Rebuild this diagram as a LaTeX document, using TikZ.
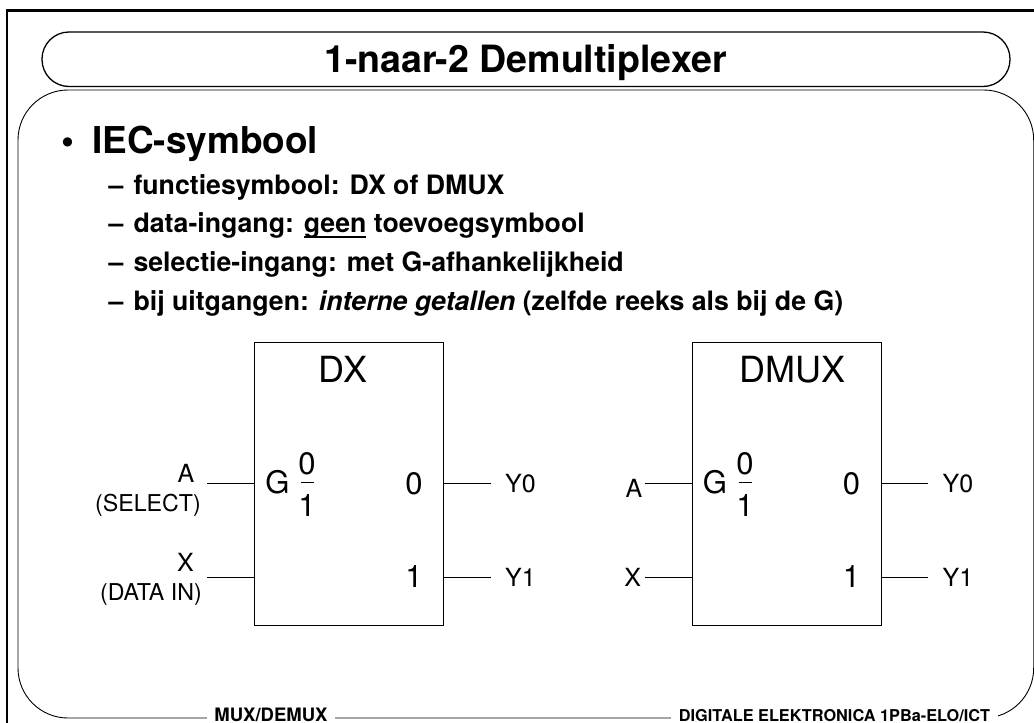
\documentclass[tikz,border=0pt]{standalone}
\usepackage{fontspec}
\setmainfont{TeX Gyre Heros}
\usetikzlibrary{positioning}
\newcommand{\fsize}[1]{\fontsize{#1}{#1}\selectfont}
\newcommand{\thickul}[1]{\setbox0\hbox{#1}\rlap{\rule[-5.3pt]{\wd0}{2.5pt}}\box0\relax}
\tikzset{
  frameline/.style = {line width=2.6pt},
  titlebox/.style = {line width=1.3pt, rounded corners=27pt},
  bodybox/.style = {line width=0.9pt, rounded corners=50pt},
  block/.style = {draw, line width=0.9pt, minimum width=189pt, minimum height=283pt, inner sep=0pt},
  wire/.style = {line width=1pt},
  itemline/.style = {font=\bfseries\fsize{26.7}, inner sep=0pt},
  foot/.style = {font=\bfseries\fsize{18.5}, fill=white, inner ysep=0pt, inner xsep=7.5pt},
  inner/.style = {font=\fsize{31}, inner sep=0pt},
  pinlabel/.style = {font=\fsize{25}, inner sep=0pt},
  sublabel/.style = {font=\fsize{23.2}, inner sep=0pt}
}
\begin{document}
\begin{tikzpicture}[x=1pt, y=-1pt]
    \useasboundingbox (0,0) rectangle (1034,723);
    % frame and panels
    \draw [frameline] (7,723) -- (7,10.5) -- (1034,10.5);
    \draw [titlebox] (42,32) rectangle (1010,86.5);
    \draw [bodybox] (18,90) rectangle (1033.7,718);
    % place text
    \node [font=\bfseries\fsize{37.6}, inner sep=0pt, anchor=base] (title) at (525.5,72.7) {1-naar-2 Demultiplexer};
    \node [font=\bfseries\fsize{37}, inner sep=0pt, anchor=base west] (head) at (61,153.3) {•\hspace{18pt}IEC-symbool};
    \node [itemline, anchor=base west] (itemA) at (108.5,194) {–\hspace{10pt}functiesymbool: DX of DMUX};
    \node [itemline, below=38.7pt of itemA.base west, anchor=base west] (itemB) {–\hspace{10pt}data-ingang: \thickul{geen} toevoegsymbool};
    \node [itemline, below=38.8pt of itemB.base west, anchor=base west] (itemC) {–\hspace{10pt}selectie-ingang: met G-afhankelijkheid};
    \node [itemline, below=38.8pt of itemC.base west, anchor=base west] (itemD) {–\hspace{10pt}bij uitgangen: \textit{interne getallen} (zelfde reeks als bij de G)};
    % footer
    \node [foot, anchor=base] (footL) at (271,721) {MUX/DEMUX};
    \node [foot, anchor=base, font=\bfseries\fsize{16.3}] (footR) at (834.5,721) {DIGITALE ELEKTRONICA 1PBa-ELO/ICT};
    % place blocks
    \node [block] (dx) at (349,483.5) {};
    \node [block] (dmux) at (786.5,483.5) {};
    % place ports
    \coordinate (dxA) at (dx.west);
    \coordinate [below=94pt of dx.west] (dxX);
    \coordinate (dxZero) at (dx.east);
    \coordinate [below=94pt of dx.east] (dxOne);
    \coordinate (dmuxA) at (dmux.west);
    \coordinate [below=94pt of dmux.west] (dmuxX);
    \coordinate (dmuxZero) at (dmux.east);
    \coordinate [below=94pt of dmux.east] (dmuxOne);
    \coordinate [left=47pt of dxA] (inA);
    \coordinate [left=47pt of dxX] (inX);
    \coordinate [right=47pt of dxZero] (outZero);
    \coordinate [right=47pt of dxOne] (outOne);
    \coordinate [left=47pt of dmuxA] (inB);
    \coordinate [left=47pt of dmuxX] (inY);
    \coordinate [right=47pt of dmuxZero] (outTwo);
    \coordinate [right=47pt of dmuxOne] (outThree);
    % left block text
    \node [inner, anchor=base, font=\fsize{36}] (dxName) at (343,382) {DX};
    \node [inner, anchor=base] (dxG) at (277.5,493) {G};
    \node [inner, anchor=base] (dxTop) at (307,474) {0};
    \node [inner, anchor=base] (dxBot) at (307,516) {1};
    \node [inner, anchor=base] (dxOut) at (414,494) {0};
    \node [inner, anchor=base] (dxOutB) at (414,587.5) {1};
    % left block labels
    \node [pinlabel, anchor=base east] (selA) at (194.5,482.7) {A};
    \node [sublabel, anchor=base east] (selTxt) at (201,511.7) {(SELECT)};
    \node [pinlabel, anchor=base east] (datX) at (194,571.7) {X};
    \node [sublabel, anchor=base east] (datTxt) at (202,600.7) {(DATA IN)};
    \node [pinlabel, anchor=base west] (outA) at (505,492.3) {Y0};
    \node [pinlabel, anchor=base west] (outB) at (505,586.7) {Y1};
    % right block text
    \node [inner, anchor=base, font=\fsize{36}] (dmuxName) at (792.8,382) {DMUX};
    \node [inner, anchor=base] (dmuxG) at (715,493) {G};
    \node [inner, anchor=base] (dmuxTop) at (745,474) {0};
    \node [inner, anchor=base] (dmuxBot) at (745,516) {1};
    \node [inner, anchor=base] (dmuxOut) at (851.5,494) {0};
    \node [inner, anchor=base] (dmuxOutB) at (851.5,587.5) {1};
    % right block labels
    \node [pinlabel, anchor=base] (pinA) at (634,497.7) {A};
    \node [pinlabel, anchor=base] (pinX) at (632.7,586.7) {X};
    \node [pinlabel, anchor=base west] (outC) at (942.5,492.3) {Y0};
    \node [pinlabel, anchor=base west] (outD) at (942.5,586.7) {Y1};
    % draw edges
    \draw [wire] (inA) -- (dxA);
    \draw [wire] (inX) -- (dxX);
    \draw [wire] (dxZero) -- (outZero);
    \draw [wire] (dxOne) -- (outOne);
    \draw [wire] (inB) -- (dmuxA);
    \draw [wire] (inY) -- (dmuxX);
    \draw [wire] (dmuxZero) -- (outTwo);
    \draw [wire] (dmuxOne) -- (outThree);
    % fraction bars
    \draw [wire, line width=1.2pt] ([xshift=-6.5pt,yshift=11pt]dxBot.north) -- ([xshift=6.5pt,yshift=11pt]dxBot.north);
    \draw [wire, line width=1.2pt] ([xshift=-6.5pt,yshift=11pt]dmuxBot.north) -- ([xshift=6.5pt,yshift=11pt]dmuxBot.north);
\end{tikzpicture}
\end{document}
